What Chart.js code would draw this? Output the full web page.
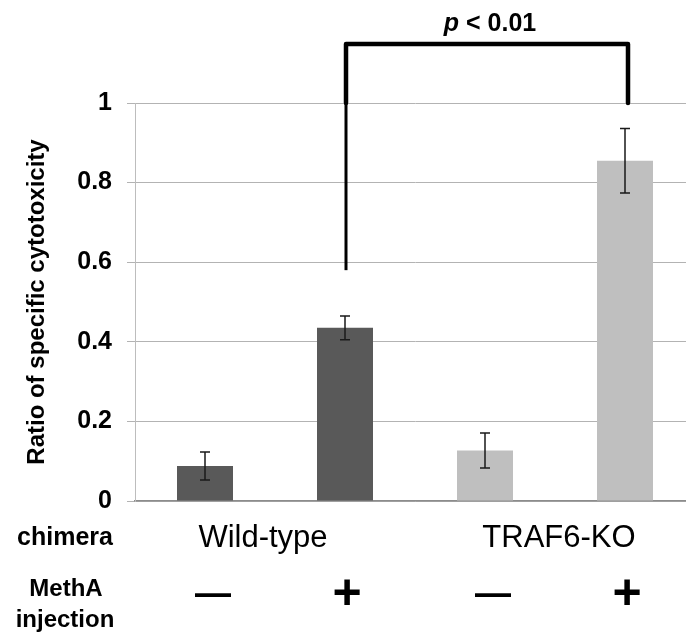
<!DOCTYPE html>
<html>
<head>
<meta charset="utf-8">
<script src="https://cdn.jsdelivr.net/npm/chart.js@4.4.1/dist/chart.umd.min.js"></script>
<style>
html,body{margin:0;padding:0;background:#fff;overflow:hidden;}
#wrap{width:695px;height:635px;position:relative;}
</style>
</head>
<body>
<div id="wrap"><canvas id="c"></canvas></div>
<script>
// ---- data ----
const categories = ['WT -', 'WT +', 'KO -', 'KO +'];
const groupLabels = ['Wild-type', 'TRAF6-KO'];
const methaSigns = ['\u2014', '+', '\u2014', '+'];
const values = [0.088, 0.435, 0.127, 0.855];
const errors = [0.035, 0.030, 0.044, 0.081];
const yTicks = [0, 0.2, 0.4, 0.6, 0.8, 1];
const barColors = ['#595959', '#595959', '#bfbfbf', '#bfbfbf'];
const bracketTop = 1.148;     // bracket height (data units)
const bracketLeftEnd = 0.58;  // left leg bottom
const bracketRightEnd = 1.0;  // right leg bottom
const pText = ['p', ' < 0.01'];

const FONT = '"Liberation Sans", Arial, sans-serif';

const overlay = {
  id: 'overlay',
  afterDatasetsDraw(chart) {
    const ctx = chart.ctx;
    const x = chart.scales.x, y = chart.scales.y;
    ctx.save();
    // error bars
    ctx.strokeStyle = '#1a1a1a';
    ctx.lineWidth = 1.5;
    values.forEach((v, i) => {
      const cx = x.getPixelForValue(i);
      const t = y.getPixelForValue(v + errors[i]);
      const b = y.getPixelForValue(v - errors[i]);
      ctx.beginPath();
      ctx.moveTo(cx, t); ctx.lineTo(cx, b);
      ctx.moveTo(cx - 5, t); ctx.lineTo(cx + 5, t);
      ctx.moveTo(cx - 5, b); ctx.lineTo(cx + 5, b);
      ctx.stroke();
    });
    // bracket
    const lx = x.getPixelForValue(1) + 1;
    const rx = x.getPixelForValue(3) + 3;
    const ty = y.getPixelForValue(bracketTop);
    const ly = y.getPixelForValue(bracketLeftEnd);
    const oneY = y.getPixelForValue(1);
    const ry = y.getPixelForValue(bracketRightEnd);
    ctx.strokeStyle = '#000';
    ctx.lineCap = 'round';
    ctx.lineJoin = 'round';
    ctx.lineWidth = 4.5;
    ctx.beginPath();
    ctx.moveTo(lx, oneY); ctx.lineTo(lx, ty); ctx.lineTo(rx, ty); ctx.lineTo(rx, ry);
    ctx.stroke();
    ctx.lineWidth = 3;
    ctx.lineCap = 'butt';
    ctx.beginPath();
    ctx.moveTo(lx, oneY); ctx.lineTo(lx, ly);
    ctx.stroke();
    // p text
    ctx.fillStyle = '#000';
    ctx.textBaseline = 'middle';
    ctx.textAlign = 'left';
    const f1 = 'italic bold 25px ' + FONT, f2 = 'bold 25px ' + FONT;
    ctx.font = f1; const w1 = ctx.measureText(pText[0]).width;
    ctx.font = f2; const w2 = ctx.measureText(pText[1]).width;
    const sx = (lx + rx) / 2 - (w1 + w2) / 2 + 3;
    ctx.font = f1; ctx.fillText(pText[0], sx, 24);
    ctx.font = f2; ctx.fillText(pText[1], sx + w1, 24);

    // bottom labels
    ctx.textAlign = 'center';
    ctx.font = 'bold 25px ' + FONT;
    ctx.fillText('chimera', 65, 538);
    ctx.font = 'bold 24px ' + FONT;
    ctx.fillText('MethA', 66, 589);
    ctx.fillText('injection', 65, 620);
    ctx.font = '31px ' + FONT;
    ctx.fillText(groupLabels[0], (x.getPixelForValue(0) + x.getPixelForValue(1)) / 2 - 12, 538);
    ctx.fillText(groupLabels[1], (x.getPixelForValue(2) + x.getPixelForValue(3)) / 2 + 4, 538);
    methaSigns.forEach((s, i) => {
      const cx = x.getPixelForValue(i);
      if (s === '+') {
        ctx.font = 'bold 50px ' + FONT;
        ctx.fillText(s, cx + 2, 595);
      } else {
        ctx.font = 'bold 36px ' + FONT;
        ctx.fillText(s, cx + 8, 595);
      }
    });
    ctx.restore();
  }
};

new Chart(document.getElementById('c'), {
  type: 'bar',
  data: {
    labels: categories,
    datasets: [{
      data: values,
      backgroundColor: barColors,
      borderWidth: 0,
      barPercentage: 0.4,
      categoryPercentage: 1.0
    }]
  },
  options: {
    responsive: true,
    maintainAspectRatio: false,
    animation: false,
    events: [],
    layout: { padding: { top: 103, right: 0, left: 0, bottom: 0 } },
    plugins: { legend: { display: false }, tooltip: { enabled: false } },
    scales: {
      x: {
        offset: true,
        grid: { display: false, drawTicks: false },
        border: { display: true, color: '#8c8c8c', width: 1.5 },
        ticks: { display: false },
        afterFit(s) { s.height = 635 - 501; }
      },
      y: {
        min: 0, max: 1,
        afterBuildTicks(s) { s.ticks = yTicks.map(v => ({ value: v })); },
        grid: { color: '#b3b3b3', lineWidth: 1, tickLength: 8, drawTicks: true },
        border: { display: true, color: '#bdbdbd', width: 1 },
        ticks: {
          color: '#000',
          padding: 15,
          font: { family: FONT, size: 25, weight: 'bold' },
          callback: (v) => String(v)
        },
        title: {
          display: true,
          text: 'Ratio of specific cytotoxicity',
          color: '#000',
          font: { family: FONT, size: 24, weight: 'bold' },
          padding: { top: 23, bottom: 0 }
        },
        afterFit(s) { s.width = 135; }
      }
    }
  },
  plugins: [overlay]
});
</script>
</body>
</html>
